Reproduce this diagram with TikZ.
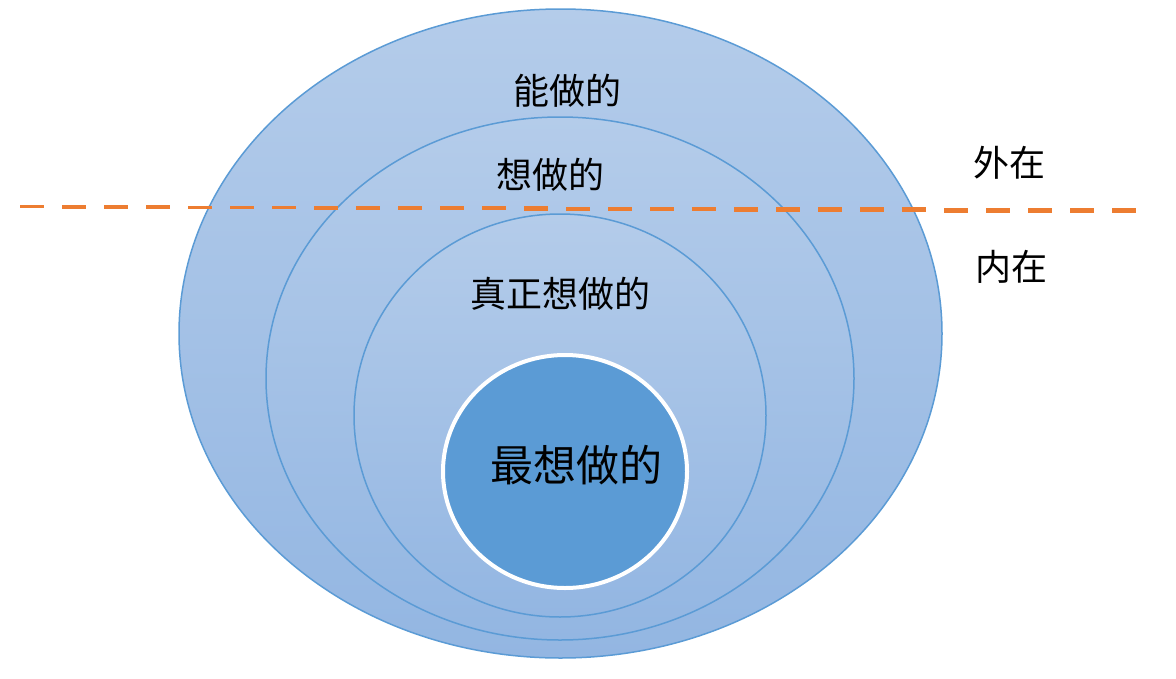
\documentclass[tikz,border=0pt]{standalone}
\usepackage{fontspec}
\setmainfont{Noto Sans CJK SC}
\definecolor{ringedge}{HTML}{5B9BD5}
\definecolor{ringtop}{HTML}{B4CCEA}
\definecolor{ringbot}{HTML}{93B6E2}
\definecolor{coreblue}{HTML}{5B9BD5}
\definecolor{dashorange}{HTML}{ED7D31}
\tikzset{
  ring/.style={draw=ringedge, line width=1.5pt, top color=ringtop, bottom color=ringbot},
  label/.style={font=\fontsize{36}{40}\selectfont, text=black, inner sep=0pt},
  biglabel/.style={font=\fontsize{43}{48}\selectfont, text=black, inner sep=0pt},
}
\begin{document}
\begin{tikzpicture}[x=1pt,y=-1pt]
\useasboundingbox (0,0) rectangle (1176,678);
% rings
\path[ring] (560.5,333.5) ellipse [x radius=381.5, y radius=324.5];
\path[ring] (560,378.5) ellipse [x radius=294, y radius=261.5];
\path[ring] (560,415.5) ellipse [x radius=206, y radius=201.5];
\path[draw=white, line width=4pt, fill=coreblue] (565,471.5) ellipse [x radius=122, y radius=116.5];
% dashed boundary line (dashes thickening to the right)
\foreach \i in {0,...,26} {
  \pgfmathsetmacro{\xa}{20+42*\i}
  \pgfmathsetmacro{\xb}{\xa+24}
  \pgfmathsetmacro{\yy}{206.7+4*\i/26}
  \pgfmathsetmacro{\ww}{3.2+2.2*\i/26}
  \draw[dashorange, line width=\ww pt] (\xa,\yy) -- (\xb,\yy);
}
% labels
\node[label] (can) at (567.5,90.5) {能做的};
\node[label] (want) at (550,175) {想做的};
\node[label] (truly) at (560.5,293.5) {真正想做的};
\node[biglabel] (most) at (576,465.5) {最想做的};
\node[label] (outer) at (1009,163) {外在};
\node[label] (inner) at (1011,267) {内在};
\end{tikzpicture}
\end{document}
